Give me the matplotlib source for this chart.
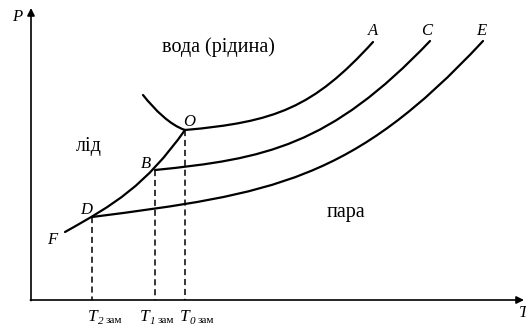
"""Phase diagram of water (P-T) with supercooled branches, redrawn as a schematic."""
import matplotlib
matplotlib.use("Agg")
import matplotlib.pyplot as plt
from matplotlib.path import Path
from matplotlib.patches import PathPatch

# key points of the diagram (pixel-like units, y grows downward)
POINT_NAMES = ["O", "B", "D", "F", "A", "C", "E"]
POINT_X = [185, 155, 92, 65, 373, 430, 483]
POINT_Y = [130, 170, 217, 232, 42, 41, 41]

# cubic bezier control points for each curve: [start, c1, c2, end]
CURVE_OA = [(185, 130), (275, 122), (313, 108), (373, 42)]
CURVE_BC = [(155, 170), (265, 159), (330, 146), (430, 41)]
CURVE_DE = [(92, 217), (272, 194), (353, 181), (483, 41)]
CURVE_MELT = [(143, 95), (155, 110), (170, 125), (185, 130)]
CURVE_SUBL = [(65, 232), (115, 204), (145, 186), (185, 130)]

# freezing temperatures: dashed drop lines from D, B, O
T_LABELS = ["2", "1", "0"]
T_FROM = ["D", "B", "O"]
T_LABEL_X = [88, 140, 180]

AXIS_ORIGIN = (31, 300)
AXIS_TOP = 8
AXIS_RIGHT = 524

REGION_TEXT = ["вода (рідина)", "лід", "пара"]
REGION_POS = [(218, 47), (89, 146), (346, 212)]

pts = dict(zip(POINT_NAMES, zip(POINT_X, POINT_Y)))

fig = plt.figure(figsize=(5.26, 3.27), dpi=100)
ax = fig.add_axes([0, 0, 1, 1])
ax.set_xlim(0, 526)
ax.set_ylim(327, 0)
ax.axis("off")

serif = "Liberation Serif"

# axes with arrows
x0, y0 = AXIS_ORIGIN
ax.annotate("", xy=(x0, AXIS_TOP), xytext=(x0, y0 + 0.6),
            arrowprops=dict(arrowstyle="-|>", lw=1.2, color="black", mutation_scale=11,
                            shrinkA=0, shrinkB=0))
ax.annotate("", xy=(AXIS_RIGHT, y0), xytext=(x0 - 0.6, y0),
            arrowprops=dict(arrowstyle="-|>", lw=1.2, color="black", mutation_scale=11,
                            shrinkA=0, shrinkB=0))
ax.text(12, 21, "P", fontsize=12, style="italic", family=serif, ha="left", va="baseline")
ax.text(519, 317, "T", fontsize=12, style="italic", family=serif, ha="left", va="baseline")

# curves
codes = [Path.MOVETO, Path.CURVE4, Path.CURVE4, Path.CURVE4]
for cv in [CURVE_OA, CURVE_BC, CURVE_DE, CURVE_MELT, CURVE_SUBL]:
    ax.add_patch(PathPatch(Path(cv, codes), fc="none", ec="black", lw=1.6,
                           capstyle="round", joinstyle="round"))

# dashed drop lines and T labels
for lab, name, tx in zip(T_LABELS, T_FROM, T_LABEL_X):
    px, py = pts[name]
    ax.plot([px, px], [py, y0], color="black", lw=1.1, ls=(0, (4, 2.5)))
    ax.text(tx, 321, "T", fontsize=12.5, style="italic", family=serif, ha="left", va="baseline")
    ax.text(tx + 10, 324, lab, fontsize=8, style="italic", family=serif, ha="left", va="baseline")
    ax.text(tx + 18, 323, "зам", fontsize=8, family=serif, ha="left", va="baseline")

# point labels
label_pos = {"O": (189, 126), "B": (146, 168), "D": (86, 214), "F": (52, 244),
             "A": (373, 35), "C": (427, 35), "E": (481, 35)}
for name in POINT_NAMES:
    lx, ly = label_pos[name]
    ax.text(lx, ly, name, fontsize=12, style="italic", family=serif, ha="center", va="baseline")

# region labels
for txt, (rx, ry) in zip(REGION_TEXT, REGION_POS):
    ax.text(rx, ry, txt, fontsize=14.5, family=serif, ha="center", va="center")

fig.savefig("out.png", dpi=100)
